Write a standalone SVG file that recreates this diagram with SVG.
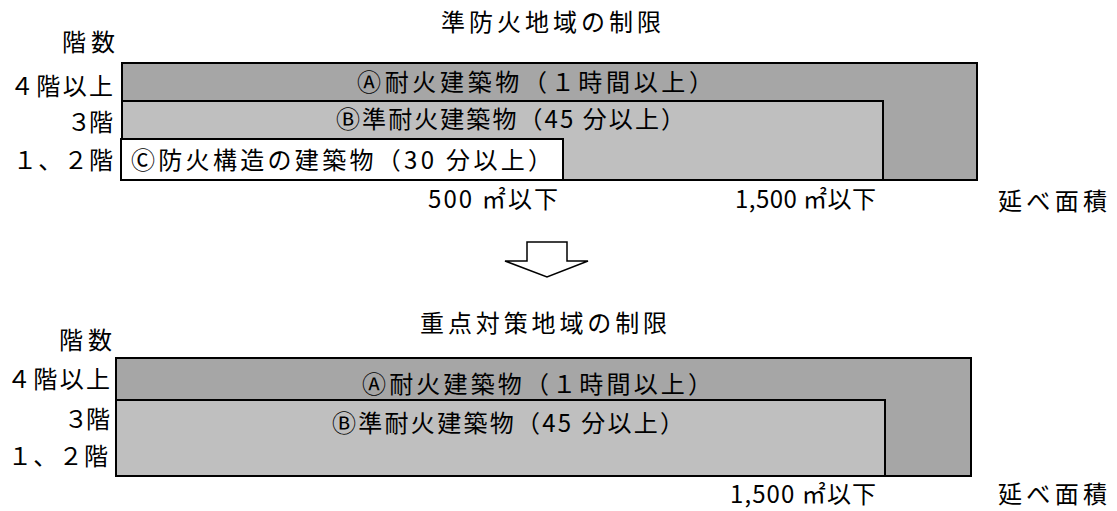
<svg xmlns="http://www.w3.org/2000/svg" width="1117" height="511" viewBox="0 0 1117 511">
<style>
text{font-family:"Noto Sans CJK JP","Noto Sans CJK SC",sans-serif;font-size:24px;fill:#000}
.a{fill:#a6a6a6;stroke:#000;stroke-width:2}
.b{fill:#bfbfbf;stroke:#000;stroke-width:2}
.c{fill:#fff;stroke:#000;stroke-width:2}
</style>
<rect width="1117" height="511" fill="#fff"/>
<g id="top-title"><text x="441" y="31" textLength="220" lengthAdjust="spacing">準防火地域の制限</text></g>
<g id="top-axis">
<text x="62" y="51" textLength="53" lengthAdjust="spacing">階数</text>
<text x="10" y="95" textLength="103" lengthAdjust="spacing">４階以上</text>
<text x="67" y="131" textLength="46" lengthAdjust="spacing">３階</text>
<text x="13" y="169" textLength="100" lengthAdjust="spacing">１、２階</text>
<text x="428" y="208" textLength="130" lengthAdjust="spacing">500 ㎡以下</text>
<text x="735" y="208" textLength="141" lengthAdjust="spacing">1,500 ㎡以下</text>
<text x="998" y="210" textLength="109" lengthAdjust="spacing">延べ面積</text>
</g>
<g id="top-A"><rect class="a" x="122" y="63" width="855" height="117"/>
<text x="357" y="91" textLength="356" lengthAdjust="spacing">Ⓐ耐火建築物（１時間以上）</text></g>
<g id="top-B"><rect class="b" x="122" y="101" width="761" height="79"/>
<text x="336" y="128" textLength="349" lengthAdjust="spacing">Ⓑ準耐火建築物（45 分以上）</text></g>
<g id="top-C"><rect class="c" x="121" y="139" width="442" height="41"/>
<text x="131" y="169" textLength="421" lengthAdjust="spacing">Ⓒ防火構造の建築物（30 分以上）</text></g>
<g id="connectors">
<polygon points="527,242 567,242 567,261 588,261 547,277 505,261 527,261" fill="#fff" stroke="#000" stroke-width="1.5"/>
</g>
<g id="bottom-title"><text x="420" y="332" textLength="247" lengthAdjust="spacing">重点対策地域の制限</text></g>
<g id="bottom-axis">
<text x="59" y="349" textLength="53" lengthAdjust="spacing">階数</text>
<text x="7" y="388" textLength="103" lengthAdjust="spacing">４階以上</text>
<text x="64" y="428" textLength="46" lengthAdjust="spacing">３階</text>
<text x="8" y="465" textLength="100" lengthAdjust="spacing">１、２階</text>
<text x="730" y="503" textLength="146" lengthAdjust="spacing">1,500 ㎡以下</text>
<text x="998" y="503" textLength="109" lengthAdjust="spacing">延べ面積</text>
</g>
<g id="bottom-A"><rect class="a" x="116" y="358" width="855" height="118"/>
<text x="362" y="393" textLength="350" lengthAdjust="spacing">Ⓐ耐火建築物（１時間以上）</text></g>
<g id="bottom-B"><rect class="b" x="116" y="400" width="769" height="76"/>
<text x="332" y="432" textLength="352" lengthAdjust="spacing">Ⓑ準耐火建築物（45 分以上）</text></g>
</svg>
